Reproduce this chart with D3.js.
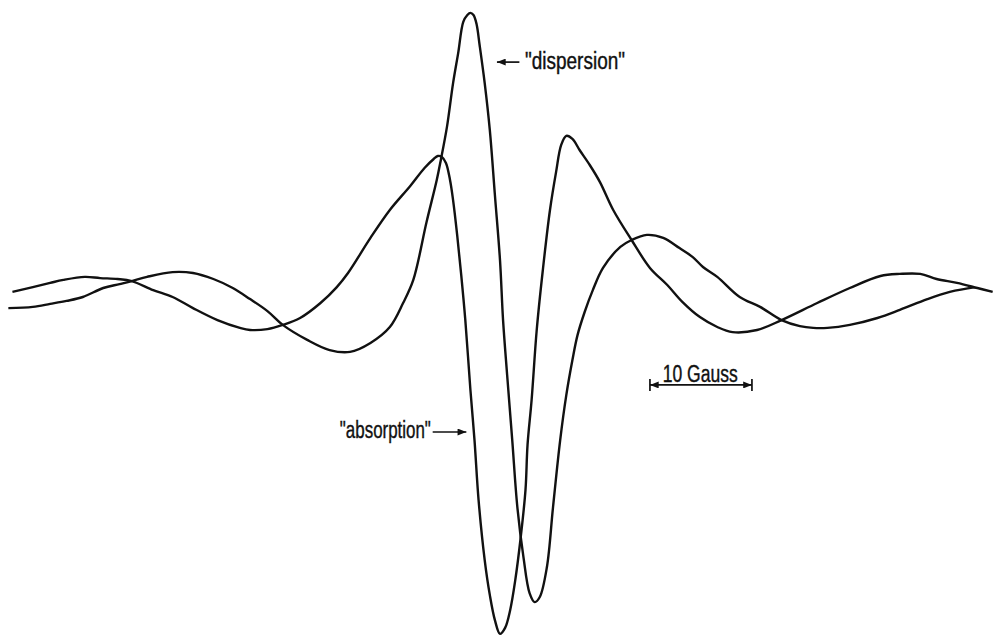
<!DOCTYPE html>
<html>
<head>
<meta charset="utf-8">
<script src="https://cdn.jsdelivr.net/npm/d3@7"></script>
<style>
  body { margin: 0; background: #fff; }
</style>
</head>
<body>
<div id="chart"></div>
<script>
// field offset from line centre (Gauss) and signal (arbitrary units)
const absorptionField = [-47.8, -45.8, -44.1, -42.8, -40.7, -39.2, -37.5, -36.1, -34.0, -32.1, -30.1, -27.7, -25.5, -24.5, -22.8, -21.3, -19.6, -17.6, -16.0, -14.9, -12.7, -10.8, -8.8, -7.4, -6.5, -6.1, -5.7, -5.3, -4.9, -4.6, -4.2, -3.8, -3.4, -2.9, -2.5, -2.1, -1.5, -1.0, -0.5, 0, 0.5, 1.0, 1.5, 2.0, 2.5, 2.7, 3.1, 3.6, 4.2, 4.9, 5.5, 6.0, 6.5, 7.1, 7.8, 8.8, 9.8, 11.1, 12.9, 14.7, 16.4, 17.9, 19.6, 21.3, 22.8, 25.2, 27.6, 31.1, 34.3, 37.3, 39.2, 41.2, 42.8, 44.8, 46.8, 48.3]
const absorptionSignal = [2.7, 4.3, 5.7, 6.7, 7.7, 7.3, 7.0, 6.3, 3.3, 1.0, -2.7, -6.7, -9.3, -10.0, -9.7, -8.3, -6.0, -1.0, 4.3, 9.0, 20.7, 30.0, 38.0, 44.0, 47.0, 48.0, 47.7, 45.7, 40.0, 33.3, 21.7, 8.3, -6.7, -30.0, -46.7, -66.7, -86.7, -98.3, -106.7, -111.3, -109.3, -103.3, -93.3, -80.0, -63.3, -48.3, -33.3, -10.0, 10.0, 30.0, 42.7, 51.7, 54.7, 53.7, 50.0, 45.0, 39.3, 30.0, 20.0, 10.7, 5.0, -0.7, -5.7, -9.0, -10.7, -10.0, -6.7, -1.0, 4.0, 8.0, 8.7, 8.7, 7.0, 5.7, 4.0, 2.7]

const dispersionField = [-48.2, -45.8, -44.1, -42.5, -40.9, -38.9, -37.3, -36.1, -34.6, -32.1, -30.1, -28.1, -26.2, -24.5, -22.8, -21.3, -18.9, -16.7, -14.7, -12.7, -10.8, -9.5, -8.5, -7.2, -6.2, -5.8, -5.2, -4.6, -4.1, -3.6, -3.2, -2.9, -2.6, -2.3, -2.0, -1.5, -1.0, -0.5, 0, 0.3, 0.7, 1.2, 1.7, 2.3, 2.9, 3.4, 3.9, 4.6, 5.2, 5.9, 6.5, 7.1, 7.6, 8.3, 9.1, 10.1, 11.8, 12.9, 14.4, 16.0, 17.6, 18.9, 19.9, 21.3, 23.5, 25.5, 27.6, 29.4, 30.7, 32.1, 34.3, 37.0, 39.2, 41.9, 44.1, 46.6]
const dispersionSignal = [-2.7, -2.3, -1.3, -0.3, 1.0, 4.0, 5.3, 6.3, 7.7, 9.3, 9.0, 7.0, 4.0, 0.3, -3.7, -8.3, -13.3, -16.7, -17.3, -14.3, -9.0, -1.0, 6.7, 26.0, 40.0, 46.7, 57.7, 72.3, 82.3, 92.7, 95.0, 95.7, 95.0, 92.0, 85.0, 72.3, 56.7, 35.0, 13.3, -6.7, -25.0, -46.7, -69.0, -85.7, -97.7, -100.7, -99.0, -89.0, -69.0, -46.7, -31.7, -20.0, -11.7, -4.0, 3.3, 10.7, 17.7, 20.0, 21.7, 20.7, 17.3, 14.3, 11.0, 7.7, 1.0, -2.3, -6.7, -8.7, -9.3, -9.3, -8.3, -6.0, -3.3, 0.3, 2.7, 4.3]

const scaleBarStart = 14.7
const scaleBarLength = 10
const scaleBarLabel = '10 Gauss'

const width = 993
const height = 637

const svg = d3.select('#chart').
    append('svg').
    attr('width', width).
    attr('height', height).
    style('background', '#fff')

const x = d3.scaleLinear().domain([-50, 50]).range([-10, 1010])
const y = d3.scaleLinear().domain([-100, 100]).range([600, 0])

const line = d3.line().
    x(d => x(d[0])).
    y(d => y(d[1])).
    curve(d3.curveCatmullRom.alpha(0.5))

const traces = [
    d3.zip(absorptionField, absorptionSignal),
    d3.zip(dispersionField, dispersionSignal)
]

svg.selectAll('path.trace').
    data(traces).
    enter().
    append('path').
    attr('class', 'trace').
    attr('d', line).
    attr('fill', 'none').
    attr('stroke', '#111').
    attr('stroke-width', 2.4).
    attr('stroke-linejoin', 'round')

// arrowhead
svg.append('defs').
    append('marker').
    attr('id', 'head').
    attr('viewBox', '0 0 10 8').
    attr('refX', 10).
    attr('refY', 4).
    attr('markerWidth', 10).
    attr('markerHeight', 7).
    attr('markerUnits', 'userSpaceOnUse').
    attr('orient', 'auto-start-reverse').
    append('path').
    attr('d', 'M0,0 L10,4 L0,8 z').
    attr('fill', '#111')

const labelFont = "'Liberation Sans Narrow', 'Liberation Sans', Arial, sans-serif"

// "dispersion" label, arrow pointing left at the tall peak
svg.append('line').
    attr('x1', x(1.9)).attr('x2', x(-0.3)).
    attr('y1', y(79.3)).attr('y2', y(79.3)).
    attr('stroke', '#111').attr('stroke-width', 1.7).
    attr('marker-end', 'url(#head)')

svg.append('text').
    text('"dispersion"').
    attr('x', x(2.45)).
    attr('y', y(77.0)).
    attr('textLength', 100).
    attr('lengthAdjust', 'spacingAndGlyphs').
    attr('font-family', labelFont).
    attr('font-size', 23).
    attr('fill', '#111').
    attr('stroke', '#111').
    attr('stroke-width', 0.4)

// "absorption" label, arrow pointing right at the absorption trace
svg.append('text').
    text('"absorption"').
    attr('x', x(-15.7)).
    attr('y', y(-45.9)).
    attr('textLength', 91).
    attr('lengthAdjust', 'spacingAndGlyphs').
    attr('font-family', labelFont).
    attr('font-size', 23).
    attr('fill', '#111').
    attr('stroke', '#111').
    attr('stroke-width', 0.4)

svg.append('line').
    attr('x1', x(-6.6)).attr('x2', x(-3.3)).
    attr('y1', y(-44)).attr('y2', y(-44)).
    attr('stroke', '#111').attr('stroke-width', 1.7).
    attr('marker-end', 'url(#head)')

// field scale bar
const barY = y(-28.3)
const x0 = x(scaleBarStart)
const x1 = x(scaleBarStart + scaleBarLength)

svg.append('line').
    attr('x1', x0).attr('x2', x1).
    attr('y1', barY).attr('y2', barY).
    attr('stroke', '#111').attr('stroke-width', 1.7).
    attr('marker-start', 'url(#head)').
    attr('marker-end', 'url(#head)')

svg.selectAll('line.tick').
    data([x0, x1]).
    enter().
    append('line').
    attr('class', 'tick').
    attr('x1', d => d).attr('x2', d => d).
    attr('y1', barY - 6).attr('y2', barY + 6).
    attr('stroke', '#111').attr('stroke-width', 1.7)

svg.append('text').
    text(scaleBarLabel).
    attr('x', x(scaleBarStart + 1.25)).
    attr('y', barY - 3).
    attr('textLength', 75).
    attr('lengthAdjust', 'spacingAndGlyphs').
    attr('font-family', labelFont).
    attr('font-size', 23).
    attr('fill', '#111').
    attr('stroke', '#111').
    attr('stroke-width', 0.4)
</script>
</body>
</html>
